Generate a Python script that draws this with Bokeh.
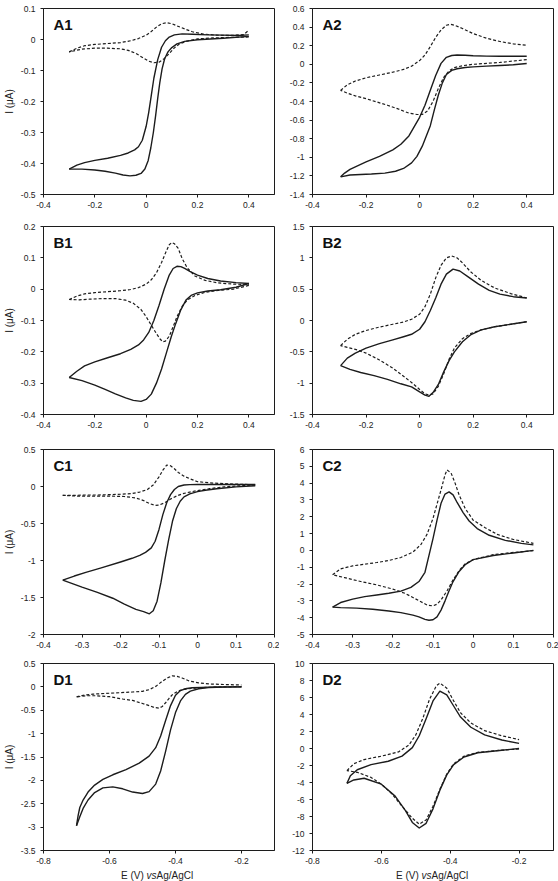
from bokeh.plotting import figure
from bokeh.layouts import column, row
from bokeh.models import Range1d, FixedTicker, CustomJSTickFormatter, Label
from bokeh.embed import file_html
from bokeh.resources import INLINE

FONT = "Liberation Sans"
INK = "#1c1c1c"

# ---------------- A1 ----------------
A1_SOLID_E_UP = [-0.30, -0.27, -0.24, -0.20, -0.15, -0.10, -0.07, -0.045, -0.03, -0.015, 0.0, 0.01, 0.02, 0.03,
                 0.045, 0.06, 0.075, 0.09, 0.11, 0.14, 0.18, 0.24, 0.30, 0.36, 0.40]
A1_SOLID_I_UP = [-0.418, -0.405, -0.397, -0.390, -0.383, -0.374, -0.366, -0.356, -0.346, -0.325, -0.28, -0.235,
                 -0.18, -0.125, -0.065, -0.025, -0.004, 0.008, 0.015, 0.018, 0.017, 0.015, 0.014, 0.013, 0.015]
A1_SOLID_E_DN = [0.40, 0.30, 0.20, 0.15, 0.12, 0.10, 0.085, 0.072, 0.062, 0.053, 0.045, 0.037, 0.028, 0.018, 0.008,
                 -0.005, -0.02, -0.04, -0.063, -0.09, -0.12, -0.16, -0.20, -0.25, -0.30]
A1_SOLID_I_DN = [0.010, 0.004, -0.001, -0.006, -0.014, -0.026, -0.040, -0.062, -0.095, -0.14, -0.19, -0.245, -0.30,
                 -0.35, -0.39, -0.418, -0.432, -0.438, -0.44, -0.437, -0.431, -0.425, -0.421, -0.418, -0.418]
A1_DASH_E_UP = [-0.30, -0.27, -0.24, -0.20, -0.15, -0.10, -0.06, -0.03, 0.0, 0.02, 0.04, 0.06, 0.08, 0.10, 0.12, 0.15,
                0.18, 0.22, 0.27, 0.33, 0.38, 0.40]
A1_DASH_I_UP = [-0.040, -0.028, -0.020, -0.016, -0.013, -0.010, -0.004, 0.003, 0.014, 0.026, 0.040, 0.051, 0.054,
                0.051, 0.044, 0.034, 0.025, 0.018, 0.014, 0.013, 0.016, 0.03]
A1_DASH_E_DN = [0.40, 0.33, 0.26, 0.20, 0.16, 0.13, 0.11, 0.09, 0.07, 0.05, 0.03, 0.01, -0.01, -0.04, -0.07, -0.10,
                -0.15, -0.20, -0.25, -0.30]
A1_DASH_I_DN = [0.008, 0.007, 0.005, 0.002, -0.005, -0.014, -0.027, -0.045, -0.062, -0.073, -0.075, -0.070, -0.060,
                -0.045, -0.035, -0.030, -0.028, -0.028, -0.031, -0.040]

# ---------------- A2 ----------------
A2_SOLID_E_UP = [-0.295, -0.28, -0.26, -0.23, -0.20, -0.15, -0.10, -0.07, -0.04, -0.02, 0.0, 0.02, 0.04, 0.06, 0.08,
                 0.10, 0.12, 0.14, 0.17, 0.20, 0.25, 0.30, 0.35, 0.40]
A2_SOLID_I_UP = [-1.21, -1.17, -1.13, -1.09, -1.05, -0.99, -0.92, -0.86, -0.77, -0.67, -0.57, -0.44, -0.28, -0.12,
                 0.01, 0.075, 0.095, 0.10, 0.097, 0.092, 0.088, 0.086, 0.086, 0.087]
A2_SOLID_E_DN = [0.40, 0.35, 0.30, 0.25, 0.20, 0.17, 0.14, 0.12, 0.10, 0.085, 0.07, 0.055, 0.04, 0.025, 0.01, -0.01,
                 -0.03, -0.06, -0.09, -0.13, -0.18, -0.22, -0.26, -0.295]
A2_SOLID_I_DN = [0.008, -0.005, -0.013, -0.02, -0.028, -0.035, -0.048, -0.065, -0.11, -0.20, -0.33, -0.49, -0.66,
                 -0.77, -0.88, -0.99, -1.06, -1.12, -1.15, -1.17, -1.18, -1.185, -1.19, -1.21]
A2_DASH_E_UP = [-0.295, -0.27, -0.24, -0.20, -0.15, -0.10, -0.06, -0.03, 0.0, 0.02, 0.04, 0.06, 0.08, 0.10, 0.115,
                0.13, 0.16, 0.20, 0.25, 0.30, 0.35, 0.40]
A2_DASH_I_UP = [-0.28, -0.22, -0.18, -0.145, -0.115, -0.085, -0.055, -0.02, 0.04, 0.10, 0.19, 0.29, 0.37, 0.42, 0.43,
                0.42, 0.385, 0.33, 0.28, 0.245, 0.22, 0.205]
A2_DASH_E_DN = [0.40, 0.35, 0.30, 0.25, 0.20, 0.16, 0.13, 0.11, 0.09, 0.07, 0.05, 0.03, 0.01, -0.01, -0.04, -0.08,
                -0.12, -0.16, -0.20, -0.24, -0.27, -0.295]
A2_DASH_I_DN = [0.05, 0.035, 0.02, 0.01, 0.0, -0.015, -0.035, -0.07, -0.14, -0.26, -0.40, -0.50, -0.54, -0.54, -0.525,
                -0.48, -0.44, -0.405, -0.37, -0.34, -0.31, -0.28]

# ---------------- B1 ----------------
B1_SOLID_E_UP = [-0.30, -0.27, -0.24, -0.20, -0.15, -0.10, -0.06, -0.03, -0.01, 0.01, 0.03, 0.05, 0.07, 0.09, 0.105,
                 0.12, 0.135, 0.15, 0.17, 0.20, 0.24, 0.29, 0.35, 0.40]
B1_SOLID_I_UP = [-0.282, -0.262, -0.245, -0.232, -0.219, -0.206, -0.192, -0.178, -0.162, -0.138, -0.10, -0.052, 0.0,
                 0.045, 0.066, 0.073, 0.072, 0.066, 0.057, 0.045, 0.034, 0.026, 0.021, 0.018]
B1_SOLID_E_DN = [0.40, 0.35, 0.29, 0.24, 0.20, 0.175, 0.155, 0.135, 0.115, 0.098, 0.08, 0.06, 0.04, 0.02, 0.0, -0.02,
                 -0.05, -0.08, -0.12, -0.16, -0.20, -0.25, -0.30]
B1_SOLID_I_DN = [0.018, 0.006, -0.002, -0.006, -0.012, -0.020, -0.035, -0.066, -0.11, -0.151, -0.20, -0.255, -0.30,
                 -0.335, -0.352, -0.358, -0.355, -0.347, -0.334, -0.32, -0.306, -0.292, -0.282]
B1_DASH_E_UP = [-0.30, -0.27, -0.24, -0.20, -0.15, -0.10, -0.06, -0.03, 0.0, 0.02, 0.04, 0.06, 0.075, 0.09, 0.10, 0.11,
                0.125, 0.14, 0.16, 0.19, 0.23, 0.28, 0.34, 0.40]
B1_DASH_I_UP = [-0.033, -0.022, -0.015, -0.011, -0.008, -0.005, -0.001, 0.005, 0.016, 0.030, 0.052, 0.085, 0.115,
                0.142, 0.149, 0.145, 0.13, 0.098, 0.068, 0.042, 0.028, 0.020, 0.016, 0.015]
B1_DASH_E_DN = [0.40, 0.34, 0.28, 0.23, 0.19, 0.16, 0.14, 0.12, 0.105, 0.09, 0.075, 0.065, 0.055, 0.04, 0.02, 0.0,
                -0.02, -0.05, -0.08, -0.12, -0.17, -0.22, -0.26, -0.30]
B1_DASH_I_DN = [0.012, 0.0, -0.004, -0.010, -0.020, -0.035, -0.055, -0.088, -0.12, -0.15, -0.166, -0.168, -0.160,
                -0.142, -0.115, -0.088, -0.065, -0.045, -0.035, -0.030, -0.030, -0.032, -0.034, -0.033]

# ---------------- B2 ----------------
B2_SOLID_E_UP = [-0.295, -0.27, -0.24, -0.20, -0.15, -0.10, -0.06, -0.03, 0.0, 0.02, 0.04, 0.06, 0.08, 0.10, 0.125,
                 0.15, 0.18, 0.22, 0.26, 0.30, 0.35, 0.40]
B2_SOLID_I_UP = [-0.72, -0.60, -0.52, -0.44, -0.37, -0.31, -0.26, -0.22, -0.14, -0.02, 0.16, 0.36, 0.58, 0.74, 0.82,
                 0.79, 0.70, 0.58, 0.48, 0.42, 0.38, 0.36]
B2_SOLID_E_DN = [0.40, 0.34, 0.28, 0.23, 0.19, 0.16, 0.13, 0.11, 0.09, 0.07, 0.05, 0.035, 0.02, 0.0, -0.03, -0.07,
                 -0.12, -0.17, -0.22, -0.26, -0.295]
B2_SOLID_I_DN = [-0.02, -0.06, -0.10, -0.15, -0.23, -0.34, -0.50, -0.64, -0.82, -1.02, -1.15, -1.21, -1.19, -1.14,
                 -1.06, -1.01, -0.94, -0.88, -0.83, -0.78, -0.72]
B2_DASH_E_UP = [-0.295, -0.27, -0.24, -0.20, -0.15, -0.10, -0.06, -0.03, 0.0, 0.02, 0.04, 0.06, 0.08, 0.10, 0.12, 0.14,
                0.16, 0.19, 0.23, 0.28, 0.34, 0.40]
B2_DASH_I_UP = [-0.40, -0.30, -0.22, -0.16, -0.105, -0.06, -0.025, 0.02, 0.10, 0.22, 0.42, 0.68, 0.88, 1.0, 1.03, 1.0,
                0.92, 0.78, 0.64, 0.52, 0.43, 0.36]
B2_DASH_E_DN = [0.40, 0.34, 0.28, 0.23, 0.19, 0.16, 0.13, 0.11, 0.09, 0.07, 0.05, 0.035, 0.02, 0.0, -0.03, -0.06,
                -0.10, -0.15, -0.20, -0.24, -0.27, -0.295]
B2_DASH_I_DN = [-0.02, -0.06, -0.10, -0.15, -0.21, -0.29, -0.44, -0.62, -0.85, -1.05, -1.17, -1.19, -1.17, -1.10,
                -0.99, -0.89, -0.76, -0.63, -0.52, -0.46, -0.43, -0.40]

# ---------------- C1 ----------------
C1_SOLID_E_UP = [-0.35, -0.32, -0.29, -0.25, -0.20, -0.17, -0.15, -0.135, -0.12, -0.11, -0.10, -0.09, -0.08, -0.07,
                 -0.06, -0.05, -0.035, -0.02, 0.0, 0.04, 0.09, 0.15]
C1_SOLID_I_UP = [-1.265, -1.21, -1.16, -1.10, -1.02, -0.97, -0.93, -0.89, -0.83, -0.74, -0.58, -0.38, -0.22, -0.11,
                 -0.04, 0.0, 0.02, 0.025, 0.027, 0.027, 0.027, 0.027]
C1_SOLID_E_DN = [0.15, 0.10, 0.05, 0.02, 0.0, -0.02, -0.035, -0.045, -0.055, -0.065, -0.075, -0.085, -0.095, -0.105,
                 -0.115, -0.125, -0.14, -0.16, -0.19, -0.22, -0.26, -0.30, -0.35]
C1_SOLID_I_DN = [0.01, -0.005, -0.03, -0.05, -0.07, -0.10, -0.14, -0.20, -0.30, -0.47, -0.72, -1.0, -1.30, -1.55,
                 -1.68, -1.72, -1.69, -1.66, -1.59, -1.51, -1.43, -1.36, -1.265]
C1_DASH_E_UP = [-0.35, -0.32, -0.29, -0.26, -0.23, -0.20, -0.17, -0.15, -0.13, -0.115, -0.10, -0.09, -0.08, -0.07,
                -0.06, -0.05, -0.035, -0.02, 0.0, 0.03, 0.07, 0.11, 0.15]
C1_DASH_I_UP = [-0.12, -0.12, -0.115, -0.115, -0.11, -0.105, -0.095, -0.075, -0.04, 0.02, 0.13, 0.22, 0.29, 0.28,
                0.24, 0.19, 0.14, 0.105, 0.065, 0.05, 0.038, 0.03, 0.025]
C1_DASH_E_DN = [0.15, 0.11, 0.07, 0.03, 0.0, -0.02, -0.04, -0.055, -0.07, -0.085, -0.10, -0.11, -0.125, -0.14, -0.16,
                -0.19, -0.23, -0.27, -0.31, -0.35]
C1_DASH_I_DN = [0.02, 0.01, -0.005, -0.03, -0.055, -0.075, -0.10, -0.13, -0.17, -0.22, -0.25, -0.255, -0.23, -0.19,
                -0.155, -0.135, -0.13, -0.13, -0.13, -0.12]

# ---------------- C2 ----------------
C2_SOLID_E_UP = [-0.35, -0.33, -0.30, -0.27, -0.24, -0.21, -0.18, -0.155, -0.135, -0.12, -0.11, -0.10, -0.09, -0.08,
                 -0.07, -0.06, -0.05, -0.04, -0.025, -0.01, 0.01, 0.04, 0.08, 0.12, 0.15]
C2_SOLID_I_UP = [-3.37, -3.1, -2.9, -2.75, -2.65, -2.55, -2.42, -2.2, -1.85, -1.3, -0.3, 0.7, 1.8, 2.8, 3.35, 3.48,
                 3.3, 2.85, 2.25, 1.75, 1.3, 0.9, 0.6, 0.42, 0.33]
C2_SOLID_E_DN = [0.15, 0.10, 0.05, 0.0, -0.02, -0.035, -0.05, -0.06, -0.07, -0.08, -0.09, -0.10, -0.11, -0.12, -0.135,
                 -0.15, -0.18, -0.21, -0.25, -0.29, -0.33, -0.35]
C2_SOLID_I_DN = [0.0, -0.15, -0.3, -0.55, -0.85, -1.25, -1.85, -2.4, -3.0, -3.55, -3.95, -4.12, -4.15, -4.1, -3.95,
                 -3.85, -3.7, -3.6, -3.5, -3.43, -3.4, -3.37]
C2_DASH_E_UP = [-0.35, -0.33, -0.30, -0.27, -0.24, -0.21, -0.18, -0.15, -0.13, -0.115, -0.10, -0.09, -0.08, -0.07,
                -0.065, -0.055, -0.045, -0.035, -0.02, 0.0, 0.03, 0.06, 0.10, 0.15]
C2_DASH_I_UP = [-1.45, -1.1, -0.92, -0.82, -0.72, -0.6, -0.42, -0.1, 0.35, 0.95, 1.9, 2.75, 3.6, 4.5, 4.78, 4.6, 4.0,
                3.3, 2.5, 1.8, 1.35, 0.95, 0.65, 0.42]
C2_DASH_E_DN = [0.15, 0.10, 0.05, 0.0, -0.02, -0.035, -0.05, -0.065, -0.08, -0.09, -0.10, -0.115, -0.13, -0.15, -0.17,
                -0.20, -0.24, -0.28, -0.32, -0.35]
C2_DASH_I_DN = [-0.02, -0.12, -0.25, -0.55, -0.8, -1.2, -1.75, -2.4, -2.95, -3.2, -3.3, -3.25, -3.05, -2.8, -2.55,
                -2.3, -2.05, -1.85, -1.62, -1.45]

# ---------------- D1 ----------------
D1_SOLID_E_UP = [-0.70, -0.695, -0.69, -0.68, -0.665, -0.645, -0.62, -0.59, -0.55, -0.51, -0.48, -0.46, -0.445,
                 -0.43, -0.415, -0.40, -0.385, -0.37, -0.35, -0.32, -0.28, -0.24, -0.20]
D1_SOLID_I_UP = [-2.97, -2.75, -2.58, -2.42, -2.25, -2.1, -1.98, -1.88, -1.77, -1.63, -1.48, -1.30, -1.05, -0.72,
                 -0.40, -0.18, -0.08, -0.04, -0.02, -0.01, 0.0, 0.0, 0.0]
D1_SOLID_E_DN = [-0.20, -0.25, -0.30, -0.33, -0.355, -0.37, -0.385, -0.40, -0.415, -0.43, -0.445, -0.46, -0.48, -0.50,
                 -0.53, -0.56, -0.59, -0.62, -0.645, -0.665, -0.68, -0.69, -0.70]
D1_SOLID_I_DN = [0.0, -0.005, -0.015, -0.04, -0.09, -0.16, -0.30, -0.55, -0.92, -1.38, -1.80, -2.08, -2.24, -2.28,
                 -2.25, -2.18, -2.14, -2.16, -2.26, -2.42, -2.6, -2.78, -2.97]
D1_DASH_E_UP = [-0.70, -0.68, -0.65, -0.61, -0.57, -0.53, -0.50, -0.48, -0.46, -0.44, -0.425, -0.41, -0.395, -0.38,
                -0.36, -0.33, -0.29, -0.25, -0.20]
D1_DASH_I_UP = [-0.215, -0.18, -0.155, -0.14, -0.125, -0.11, -0.095, -0.06, 0.01, 0.12, 0.19, 0.235, 0.225, 0.19,
                0.13, 0.085, 0.06, 0.05, 0.04]
D1_DASH_E_DN = [-0.20, -0.25, -0.30, -0.33, -0.36, -0.38, -0.395, -0.41, -0.42, -0.43, -0.44, -0.45, -0.465, -0.48,
                -0.50, -0.53, -0.56, -0.60, -0.64, -0.67, -0.70]
D1_DASH_I_DN = [0.005, 0.0, -0.01, -0.02, -0.04, -0.06, -0.10, -0.17, -0.25, -0.34, -0.42, -0.455, -0.44, -0.40,
                -0.355, -0.29, -0.26, -0.21, -0.19, -0.19, -0.215]

# ---------------- D2 ----------------
D2_SOLID_E_UP = [-0.70, -0.69, -0.67, -0.63, -0.58, -0.54, -0.51, -0.49, -0.47, -0.45, -0.43, -0.41, -0.39, -0.37,
                 -0.34, -0.30, -0.25, -0.20]
D2_SOLID_I_UP = [-4.1, -3.2, -2.5, -1.9, -1.5, -0.9, 0.1, 1.5, 3.5, 5.6, 6.75, 6.3, 5.0, 3.7, 2.5, 1.6, 1.0, 0.6]
D2_SOLID_E_DN = [-0.20, -0.25, -0.32, -0.36, -0.39, -0.41, -0.43, -0.45, -0.47, -0.49, -0.51, -0.53, -0.56, -0.60,
                 -0.65, -0.68, -0.70]
D2_SOLID_I_DN = [0.0, -0.2, -0.5, -1.0, -1.9, -3.1, -4.9, -7.1, -8.8, -9.35, -8.7, -7.3, -5.6, -4.2, -3.5, -3.7, -4.1]
D2_DASH_E_UP = [-0.70, -0.68, -0.65, -0.60, -0.55, -0.52, -0.50, -0.48, -0.46, -0.44, -0.43, -0.41, -0.39, -0.37,
                -0.34, -0.30, -0.25, -0.20]
D2_DASH_I_UP = [-2.6, -1.8, -1.3, -0.9, -0.4, 0.4, 1.6, 3.5, 5.8, 7.4, 7.7, 7.1, 5.6, 4.2, 3.0, 2.1, 1.5, 1.05]
D2_DASH_E_DN = [-0.20, -0.25, -0.32, -0.36, -0.39, -0.41, -0.43, -0.45, -0.47, -0.49, -0.51, -0.54, -0.57, -0.60,
                -0.63, -0.67, -0.70]
D2_DASH_I_DN = [-0.05, -0.2, -0.45, -0.9, -1.8, -3.0, -4.8, -6.8, -8.4, -8.9, -8.2, -6.8, -5.3, -4.2, -3.4, -2.8, -2.6]

# ---------------- axes ----------------
AB_XTICKS = [-0.4, -0.2, 0, 0.2, 0.4]
C_XTICKS = [-0.4, -0.3, -0.2, -0.1, 0, 0.1, 0.2]
D_XTICKS = [-0.8, -0.6, -0.4, -0.2]
A1_YTICKS = [0.1, 0, -0.1, -0.2, -0.3, -0.4, -0.5]
A2_YTICKS = [0.6, 0.4, 0.2, 0, -0.2, -0.4, -0.6, -0.8, -1, -1.2, -1.4]
B1_YTICKS = [0.2, 0.1, 0, -0.1, -0.2, -0.3, -0.4]
B2_YTICKS = [1.5, 1, 0.5, 0, -0.5, -1, -1.5]
C1_YTICKS = [0.5, 0, -0.5, -1, -1.5, -2]
C2_YTICKS = [6, 5, 4, 3, 2, 1, 0, -1, -2, -3, -4, -5]
D1_YTICKS = [0.5, 0, -0.5, -1, -1.5, -2, -2.5, -3, -3.5]
D2_YTICKS = [10, 8, 6, 4, 2, 0, -2, -4, -6, -8, -10, -12]

Y_LABEL = "I (\u03bcA)"
# x-axis title pieces: text, font style, advance width in px at 10px
X_LABEL_PARTS = [("E (V) ", "normal", 25.6), ("vs", "italic", 10.0), (" Ag/AgCl", "normal", 39.5)]


def make_panel(name, xr, yr, xticks, yticks, height, border_left, frame_h, curves, ylabel=False):
    border_bottom = height - 8 - frame_h
    p = figure(width=279, height=height, x_range=Range1d(*xr), y_range=Range1d(*yr),
               output_backend="svg", toolbar_location=None,
               min_border_left=border_left, min_border_right=5,
               min_border_top=8, min_border_bottom=border_bottom)
    p.xgrid.visible = False
    p.ygrid.visible = False
    p.outline_line_color = INK
    p.outline_line_width = 1
    p.background_fill_color = "white"
    p.border_fill_color = "white"

    fmt = "return String(Math.round(tick * 1e6) / 1e6);"
    for ax, ticks in ((p.xaxis[0], xticks), (p.yaxis[0], yticks)):
        ax.ticker = FixedTicker(ticks=ticks)
        ax.formatter = CustomJSTickFormatter(code=fmt)
        ax.major_tick_in = 0
        ax.major_tick_out = 3
        ax.minor_tick_in = 0
        ax.minor_tick_out = 0
        ax.axis_line_color = INK
        ax.major_tick_line_color = INK
        ax.major_label_text_font = FONT
        ax.major_label_text_font_size = "8.5px"
        ax.major_label_text_color = "#222222"
        ax.major_label_standoff = 4
    p.yaxis[0].major_label_standoff = 5

    if ylabel:
        p.yaxis[0].axis_label = Y_LABEL
        p.yaxis[0].axis_label_text_font = FONT
        p.yaxis[0].axis_label_text_font_size = "10px"
        p.yaxis[0].axis_label_text_font_style = "normal"
        p.yaxis[0].axis_label_text_color = "#222222"
        p.yaxis[0].axis_label_standoff = 3

    for e, i, dashed in curves:
        if dashed:
            p.line(e, i, line_color=INK, line_width=1.2, line_dash="3 2")
        else:
            p.line(e, i, line_color=INK, line_width=1.4, line_join="round")

    p.add_layout(Label(x=xr[0], y=yr[1], x_offset=10, y_offset=-16, text=name,
                       text_font=FONT, text_font_size="15px", text_font_style="bold",
                       text_color="#111111", text_baseline="middle", text_align="left"))
    return p


def make_xtitle(center_px):
    # thin strip under a bottom panel carrying the mixed-style axis title
    t = figure(width=279, height=14, x_range=Range1d(0, 279), y_range=Range1d(0, 14),
               output_backend="svg", toolbar_location=None,
               x_axis_location=None, y_axis_location=None, min_border=0)
    t.xgrid.visible = False
    t.ygrid.visible = False
    t.outline_line_color = None
    total = sum(w for _, _, w in X_LABEL_PARTS)
    x = center_px - total / 2
    for txt, style, w in X_LABEL_PARTS:
        t.add_layout(Label(x=x, y=6, text=txt, text_font=FONT, text_font_size="10px",
                           text_font_style=style, text_color="#222222",
                           text_baseline="middle", text_align="left"))
        x += w
    return t


a1 = make_panel("A1", (-0.4, 0.5), (-0.5, 0.1), AB_XTICKS, A1_YTICKS, 218, 41, 190,
                [(A1_SOLID_E_UP, A1_SOLID_I_UP, False), (A1_SOLID_E_DN, A1_SOLID_I_DN, False),
                 (A1_DASH_E_UP, A1_DASH_I_UP, True), (A1_DASH_E_DN, A1_DASH_I_DN, True)], ylabel=True)
a2 = make_panel("A2", (-0.4, 0.5), (-1.4, 0.6), AB_XTICKS, A2_YTICKS, 218, 33, 186,
                [(A2_SOLID_E_UP, A2_SOLID_I_UP, False), (A2_SOLID_E_DN, A2_SOLID_I_DN, False),
                 (A2_DASH_E_UP, A2_DASH_I_UP, True), (A2_DASH_E_DN, A2_DASH_I_DN, True)])
b1 = make_panel("B1", (-0.4, 0.5), (-0.4, 0.2), AB_XTICKS, B1_YTICKS, 223, 41, 190,
                [(B1_SOLID_E_UP, B1_SOLID_I_UP, False), (B1_SOLID_E_DN, B1_SOLID_I_DN, False),
                 (B1_DASH_E_UP, B1_DASH_I_UP, True), (B1_DASH_E_DN, B1_DASH_I_DN, True)], ylabel=True)
b2 = make_panel("B2", (-0.4, 0.5), (-1.5, 1.5), AB_XTICKS, B2_YTICKS, 223, 33, 188,
                [(B2_SOLID_E_UP, B2_SOLID_I_UP, False), (B2_SOLID_E_DN, B2_SOLID_I_DN, False),
                 (B2_DASH_E_UP, B2_DASH_I_UP, True), (B2_DASH_E_DN, B2_DASH_I_DN, True)])
c1 = make_panel("C1", (-0.4, 0.2), (-2, 0.5), C_XTICKS, C1_YTICKS, 214, 39, 185,
                [(C1_SOLID_E_UP, C1_SOLID_I_UP, False), (C1_SOLID_E_DN, C1_SOLID_I_DN, False),
                 (C1_DASH_E_UP, C1_DASH_I_UP, True), (C1_DASH_E_DN, C1_DASH_I_DN, True)], ylabel=True)
c2 = make_panel("C2", (-0.4, 0.2), (-5, 6), C_XTICKS, C2_YTICKS, 214, 33, 186,
                [(C2_SOLID_E_UP, C2_SOLID_I_UP, False), (C2_SOLID_E_DN, C2_SOLID_I_DN, False),
                 (C2_DASH_E_UP, C2_DASH_I_UP, True), (C2_DASH_E_DN, C2_DASH_I_DN, True)])
d1 = make_panel("D1", (-0.8, -0.1), (-3.5, 0.5), D_XTICKS, D1_YTICKS, 212, 39, 187,
                [(D1_SOLID_E_UP, D1_SOLID_I_UP, False), (D1_SOLID_E_DN, D1_SOLID_I_DN, False),
                 (D1_DASH_E_UP, D1_DASH_I_UP, True), (D1_DASH_E_DN, D1_DASH_I_DN, True)], ylabel=True)
d2 = make_panel("D2", (-0.8, -0.1), (-12, 10), D_XTICKS, D2_YTICKS, 212, 33, 187,
                [(D2_SOLID_E_UP, D2_SOLID_I_UP, False), (D2_SOLID_E_DN, D2_SOLID_I_DN, False),
                 (D2_DASH_E_UP, D2_DASH_I_UP, True), (D2_DASH_E_DN, D2_DASH_I_DN, True)])

layout = column(row(a1, a2, spacing=0), row(b1, b2, spacing=0), row(c1, c2, spacing=0),
                row(d1, d2, spacing=0), row(make_xtitle(158), make_xtitle(154), spacing=0),
                spacing=0)

open("out.html", "w").write(file_html(layout, INLINE))
